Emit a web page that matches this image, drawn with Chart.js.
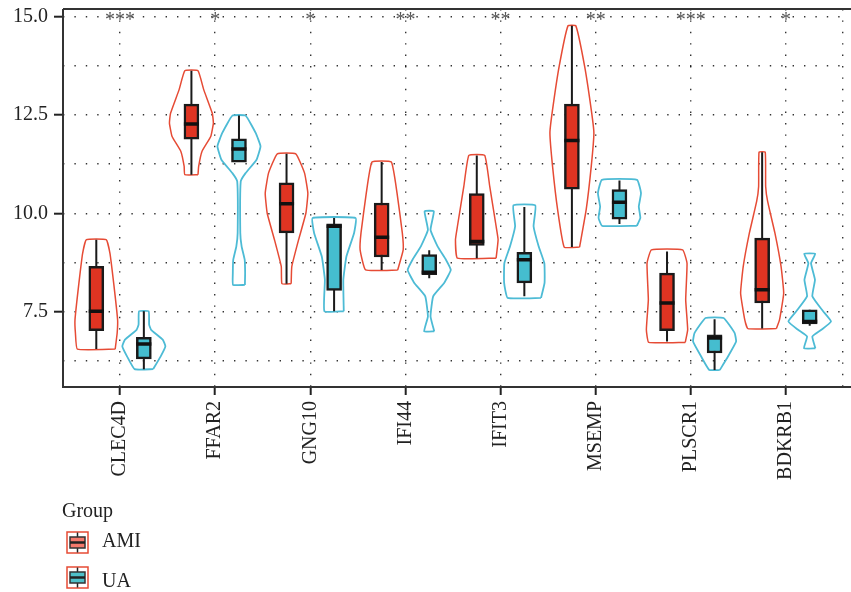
<!DOCTYPE html>
<html>
<head>
<meta charset="utf-8">
<script src="https://cdn.jsdelivr.net/npm/chart.js@4.4.1/dist/chart.umd.min.js"></script>
<style>
html,body{margin:0;padding:0;background:#fff;}
#wrap{position:relative;width:851px;height:592px;}
.lg{position:absolute;font-family:"Liberation Serif",serif;font-size:20px;line-height:20px;color:#222;white-space:nowrap;}
.ic{position:absolute;}
</style>
</head>
<body>
<div id="wrap">
<canvas id="chart"></canvas>
<div class="lg" style="left:62px;top:500px;">Group</div>
<svg class="ic" style="left:66px;top:531px;" width="24" height="24">
<rect x="1" y="1" width="21" height="21" fill="none" stroke="#E64B35" stroke-width="1.5"/>
<line x1="11.5" y1="1.5" x2="11.5" y2="21.5" stroke="#222" stroke-width="1.5"/>
<rect x="4" y="6" width="15" height="11" fill="#F4796C" stroke="#333" stroke-width="1.5"/>
<line x1="4" y1="11.5" x2="19" y2="11.5" stroke="#222" stroke-width="2.5"/>
</svg>
<div class="lg" style="left:102px;top:530px;">AMI</div>
<svg class="ic" style="left:66px;top:566px;" width="24" height="24">
<rect x="1" y="1" width="21" height="21" fill="none" stroke="#E64B35" stroke-width="1.5"/>
<line x1="11.5" y1="1.5" x2="11.5" y2="21.5" stroke="#222" stroke-width="1.5"/>
<rect x="4" y="6" width="15" height="11" fill="#4FC0C8" stroke="#333" stroke-width="1.5"/>
<line x1="4" y1="11.5" x2="19" y2="11.5" stroke="#222" stroke-width="2.5"/>
</svg>
<div class="lg" style="left:102px;top:570px;">UA</div>
</div>
<script>
/* ================= DATA ================= */
const genes=['CLEC4D','FFAR2','GNG10','IFI44','IFIT3','MSEMP','PLSCR1','BDKRB1'];
const stars=['***','*','*','**','**','**','***','*'];

// box summaries: [low whisker, q1, median, q3, high whisker]
const amiBox=[
[6.55,7.02,7.51,8.65,9.33],
[10.98,11.88,12.27,12.77,13.62],
[8.21,9.50,10.24,10.77,11.51],
[8.56,8.89,9.39,10.26,11.30],
[8.86,9.18,9.28,10.50,11.47],
[9.14,10.61,11.85,12.77,14.76],
[6.74,7.02,7.72,8.48,9.03],
[7.07,7.72,8.06,9.37,11.55]
];
const uaBox=[
[6.04,6.30,6.68,6.85,7.51],
[11.30,11.30,11.63,11.89,12.48],
[7.51,8.04,9.67,9.73,9.88],
[8.35,8.44,8.50,8.95,9.06],
[7.89,8.23,8.82,9.01,10.16],
[9.73,9.85,10.28,10.60,10.83],
[6.02,6.45,6.83,6.91,7.31],
[7.14,7.19,7.25,7.55,7.55]
];

// violin outlines: [value, relative half width]
const amiViolin=[
[[6.55,.86],[6.96,.95],[7.29,.97],[8.23,.79],[8.99,.62],[9.33,.45]],
[[10.98,.30],[11.19,.33],[11.57,.48],[11.95,.88],[12.29,1],[12.54,.95],[13.14,.56],[13.62,.30]],
[[8.21,.21],[8.65,.24],[9.33,.55],[10.0,.88],[10.51,.97],[11.02,.82],[11.51,.42]],
[[8.56,.73],[9.07,.98],[9.50,.94],[10.51,.70],[11.30,.44]],
[[8.86,.88],[9.33,.97],[9.67,.88],[10.68,.59],[11.47,.36]],
[[9.14,.35],[10.09,.65],[11.19,.88],[12.04,1],[12.63,.88],[13.73,.58],[14.76,.18]],
[[6.72,.83],[7.04,.94],[7.80,.85],[8.73,.91],[9.07,.71]],
[[7.07,.65],[7.29,.79],[7.97,.98],[8.65,.86],[9.50,.58],[10.30,.25],[10.68,.16],[11.55,.14]]
];
const uaViolin=[
[[6.04,.42],[6.36,.76],[6.62,.98],[6.79,.86],[7.04,.33],[7.17,.24],[7.51,.22]],
[[8.18,.27],[8.48,.28],[8.82,.26],[9.16,.12],[9.50,.06],[10.81,.08],[11.02,.30],[11.36,.80],[11.70,.98],[12.04,.76],[12.48,.30]],
[[7.51,.44],[8.31,.42],[8.90,.56],[9.50,.91],[9.88,.98]],
[[7.0,.23],[7.38,.06],[7.89,.18],[8.23,.68],[8.56,.98],[8.82,.76],[9.16,.38],[9.58,.06],[10.05,.21]],
[[7.85,.76],[8.23,.92],[8.73,.91],[9.16,.65],[9.67,.42],[10.20,.50]],
[[9.68,.79],[9.88,.95],[10.17,.88],[10.51,.98],[10.85,.80]],
[[6.02,.24],[6.36,.61],[6.74,.98],[6.96,.91],[7.34,.41]],
[[6.57,.26],[6.87,.12],[7.04,.53],[7.25,.97],[7.51,.61],[7.89,.12],[8.31,.24],[8.73,.06],[8.97,.25]]
];

const yLabels=[7.5,10,12.5,15];
const yGrid=[6.25,7.5,8.75,10,11.25,12.5,13.75,15];
const xGrid=[1,2,3,4,5,6,7,8,8.6];

/* ================= STYLE ================= */
const RED='#E64B35',CYAN='#4DBBD5';
const SHIFT=0.25,VW=0.231,BOXW=0.079;
const FONT='"Liberation Serif", serif';

function violinPts(list,shift){
let pts=[];
list.forEach((v,i)=>{
let c=i+1+shift;
v.forEach(p=>pts.push({x:c+p[1]*VW,y:p[0]}));
v.slice().reverse().forEach(p=>pts.push({x:c-p[1]*VW,y:p[0]}));
pts.push({x:c+v[0][1]*VW,y:v[0][0]});
pts.push({x:null,y:null});
});
return pts;
}
function whiskerPts(list,shift){
let pts=[];
list.forEach((b,i)=>{let c=i+1+shift;pts.push({x:c,y:b[0]},{x:c,y:b[4]},{x:null,y:null});});
return pts;
}
function medianPts(list,shift){
let pts=[];
list.forEach((b,i)=>{let c=i+1+shift;pts.push({x:c-BOXW,y:b[2]},{x:c+BOXW,y:b[2]},{x:null,y:null});});
return pts;
}
function boxPts(list,shift){
return list.map((b,i)=>({x:i+1+shift,y:[b[1],b[3]]}));
}

const lineBase={type:'line',showLine:true,pointRadius:0,spanGaps:false,fill:false};

/* ================= PLUGINS ================= */
const frame={
id:'frame',
afterDraw(chart){
const {ctx,chartArea:a}=chart;
ctx.save();
ctx.strokeStyle='#333';ctx.lineWidth=2;
ctx.beginPath();
ctx.moveTo(a.left,a.top);ctx.lineTo(chart.width,a.top);
ctx.moveTo(a.left,a.bottom);ctx.lineTo(chart.width,a.bottom);
ctx.moveTo(a.left,a.top);ctx.lineTo(a.left,a.bottom+1);
ctx.stroke();
// significance marks
const x=chart.scales.x,y=chart.scales.y;
ctx.font='20px '+FONT;ctx.fillStyle='#555';ctx.textAlign='center';ctx.textBaseline='alphabetic';
stars.forEach((s,i)=>ctx.fillText(s,x.getPixelForValue(i+1),y.getPixelForValue(15)+10));
ctx.restore();
}
};

/* ================= CHART ================= */
new Chart(document.getElementById('chart'),{
type:'scatter',
data:{datasets:[
{...lineBase,data:violinPts(amiViolin,-SHIFT),borderColor:RED,borderWidth:1.5,tension:0.12,order:5},
{...lineBase,data:violinPts(uaViolin,SHIFT),borderColor:CYAN,borderWidth:1.8,tension:0.12,order:5},
{...lineBase,data:whiskerPts(amiBox,-SHIFT),borderColor:'#1a1a1a',borderWidth:2,order:4},
{...lineBase,data:whiskerPts(uaBox,SHIFT),borderColor:'#1a1a1a',borderWidth:2,order:4},
{type:'bar',data:boxPts(amiBox,-SHIFT),backgroundColor:'#DF3422',borderColor:'#1a1a1a',borderWidth:2.5,borderSkipped:false,barThickness:15,grouped:false,order:3},
{type:'bar',data:boxPts(uaBox,SHIFT),backgroundColor:'#45BDCF',borderColor:'#1a1a1a',borderWidth:2.5,borderSkipped:false,barThickness:15,grouped:false,order:3},
{...lineBase,data:medianPts(amiBox,-SHIFT),borderColor:'#111',borderWidth:3.5,order:1},
{...lineBase,data:medianPts(uaBox,SHIFT),borderColor:'#111',borderWidth:3.5,order:1}
]},
options:{
responsive:true,maintainAspectRatio:false,animation:false,
layout:{padding:{top:9,right:8,left:0,bottom:0}},
plugins:{legend:{display:false},tooltip:{enabled:false}},
scales:{
x:{type:'linear',min:0.4,max:8.6,offset:false,
afterBuildTicks:s=>{s.ticks=xGrid.map(v=>({value:v}));},
afterFit:s=>{s.height=205;s.paddingLeft=0;s.paddingRight=0;},
grid:{offset:false,color:'rgba(0,0,0,0.8)',lineWidth:1.4,drawTicks:true,tickLength:8,tickWidth:2,
tickColor:c=>(c.tick&&c.tick.value<=8)?'#222':'rgba(0,0,0,0)',tickBorderDash:[]},
border:{display:false,dash:[1.4,10]},
ticks:{autoSkip:false,minRotation:90,maxRotation:90,padding:6,color:'#222',
font:{family:FONT,size:20},callback:v=>Number.isInteger(v)?genes[v-1]:''}
},
y:{min:5.587,max:15.188,
afterBuildTicks:s=>{s.ticks=yGrid.map(v=>({value:v}));},
afterFit:s=>{s.width=63;s.paddingTop=0;s.paddingBottom=0;},
grid:{offset:false,color:'rgba(0,0,0,0.8)',lineWidth:1.4,drawTicks:true,tickLength:9,tickWidth:2,
tickColor:c=>(c.tick&&yLabels.includes(c.tick.value))?'#222':'rgba(0,0,0,0)',tickBorderDash:[]},
border:{display:false,dash:[1.4,10]},
ticks:{autoSkip:false,padding:6,color:'#222',font:{family:FONT,size:20},
callback:v=>yLabels.includes(v)?v.toFixed(1):''}
}
}
},
plugins:[frame]
});
</script>
</body>
</html>
